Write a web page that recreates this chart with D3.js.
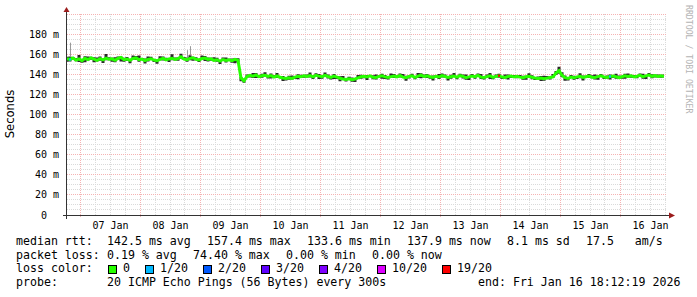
<!DOCTYPE html>
<html>
<head>
<meta charset="utf-8">
<script src="https://cdn.jsdelivr.net/npm/d3@7"></script>
<style>
  body { margin: 0; background: #fff; }
  svg { display: block; }
  text { font-family: "DejaVu Sans Mono", monospace; }
</style>
</head>
<body>
<svg id="chart" width="697" height="297"></svg>
<script>
// median rtt (ms), one value every 72 minutes from 06 Jan 18:48 UTC
const medianRtt = [
  155.5, 154.8, 156.2, 154.1, 155.3, 153.6, 155.9, 154.7, 156.4, 155.0,
  153.8, 155.6, 154.3, 156.1, 154.9, 155.4, 153.9, 155.8, 156.7, 154.5,
  155.2, 154.0, 155.7, 156.3, 154.6, 155.1, 153.7, 154.8, 155.5, 154.2,
  153.5, 154.9, 155.8, 154.4, 155.3, 156.0, 154.7, 155.6, 157.4, 155.2,
  154.6, 155.9, 156.5, 155.0, 154.3, 155.7, 156.2, 154.8, 155.4, 153.9,
  154.5, 153.2, 154.7, 153.8, 154.4, 153.6, 154.9, 153.9,
  136.2, 133.6,
  137.8, 138.9, 138.2, 139.4, 137.6, 138.5, 139.1, 137.9, 138.7, 137.3,
  138.4, 137.1, 136.3, 135.8, 136.6, 135.9, 137.2, 138.1, 137.5, 138.6,
  137.9, 138.8, 137.4, 139.0, 138.2, 137.6, 138.9, 137.8, 136.9, 138.3,
  137.2, 136.1, 135.4, 134.9, 135.6, 134.7, 135.3, 136.4, 137.5, 138.0,
  137.3, 138.4, 137.1, 136.8, 137.9, 138.6, 137.4, 136.9, 137.7, 138.3,
  137.5, 138.8, 137.2, 136.6, 137.9, 138.5, 137.0, 138.2, 139.1, 137.8,
  138.4, 137.6, 136.9, 138.1, 137.3, 138.7, 137.8, 136.8, 137.5, 138.2,
  137.1, 138.6, 137.9, 136.7, 137.4, 138.3, 137.6, 138.9, 137.2, 136.8,
  137.7, 138.4, 137.0, 137.9, 138.6, 137.3, 136.9, 137.8, 138.2, 137.4,
  138.0, 137.2, 136.6, 137.5, 138.1, 137.0, 136.4, 135.9, 136.3, 135.6,
  136.2, 136.8, 137.4, 141.2, 143.6, 139.0, 136.7, 135.8, 137.2, 136.5,
  137.4, 138.1, 136.9, 137.6, 138.3, 137.1, 136.8, 137.7, 138.4, 137.3,
  136.9, 137.8, 138.2, 137.5, 136.7, 137.6, 138.5, 137.9, 138.6, 137.4,
  138.1, 138.9, 137.6, 138.4, 139.2, 138.0, 138.7, 137.8, 138.5, 137.9
];

// smoke spread above / below the median (ms)
const smokeUp = [
  2,3,1,2,4,1,2,3,1,2, 3,2,1,4,2,1,3,2,1,2, 2,1,3,2,4,1,2,3,2,1, 1,3,2,2,1,4,2,1,3,2,
  2,3,1,2,1,3,2,2,1,3, 2,1,2,3,1,2,1,2,1,2, 2,1,3,2,1,2,3,1,2,2, 3,1,2,1,2,3,1,2,2,1,
  2,3,1,2,2,1,3,2,1,2, 1,2,3,1,2,2,1,3,2,1, 2,1,2,3,1,2,2,1,3,2, 1,2,3,2,1,2,1,3,2,2,
  2,1,2,1,3,2,2,1,2,3, 1,2,2,3,1,2,1,2,3,1, 2,3,1,2,2,1,3,2,1,2, 1,2,2,1,3,2,1,2,2,3,
  2,1,3,2,4,3,2,1,2,2, 1,3,2,1,2,2,3,1,2,1, 2,2,1,3,2,1,2,3,1,2, 1,2,3,1,2,2,1,2,1,2
];
const smokeDown = [
  3,2,2,1,3,2,4,1,2,3, 1,2,3,2,1,3,2,1,4,2, 2,3,1,2,2,1,3,2,1,2, 3,1,2,1,3,2,1,2,2,1,
  2,2,3,1,2,1,3,2,2,1, 2,3,1,2,1,2,4,2,3,2, 1,2,2,3,1,2,1,2,3,1, 2,1,3,2,2,1,2,3,1,2,
  1,2,2,1,3,2,1,2,2,3, 2,3,1,2,1,2,3,1,2,2, 3,1,2,2,1,3,2,2,1,2, 1,2,1,3,2,1,2,2,3,1,
  2,2,3,1,2,2,1,3,2,1, 2,1,2,2,3,1,2,1,2,2, 1,3,2,1,2,2,1,3,2,1, 2,1,2,3,1,2,2,1,3,2,
  1,2,1,2,3,2,3,2,1,2, 2,2,3,1,2,1,2,3,1,2, 1,3,2,2,1,2,3,1,2,1, 2,1,2,3,1,2,2,1,2,1
];

// isolated slow pings (light smoke spikes)
const spikeIndex = [1, 40, 41];
const spikeTop = [171.5, 164, 168];

// samples with packet loss
const lossIndex = [1, 144, 181];
const lossLevel = [1, 19, 1];

const lossThresholds = [0, 1, 2, 3, 4, 10, 19];
const lossLabels = ["0", "1/20", "2/20", "3/20", "4/20", "10/20", "19/20"];
const lossColors = ["#26ff00", "#00b8ff", "#0059ff", "#5e00ff", "#7e00ff", "#dd00ff", "#ff0000"];

const yTicks = [0, 20, 40, 60, 80, 100, 120, 140, 160, 180];

const rttLegend = ["median rtt:", "142.5 ms avg", "157.4 ms max", "133.6 ms min", "137.9 ms now", "8.1 ms sd", "17.5   am/s"];
const lossLegend = ["packet loss:", "0.19 % avg", "74.40 % max", "0.00 % min", "0.00 % now"];
const probeLegend = ["probe:", "20 ICMP Echo Pings (56 Bytes) every 300s", "end: Fri Jan 16 18:12:19 2026"];

const startTime = Date.UTC(2026, 0, 6, 18, 48);
const stepMs = 72 * 60 * 1000;
const endTime = startTime + 10 * 24 * 3600 * 1000;

const svg = d3.select("#chart");
const plotLeft = 67, plotRight = 667, plotBottom = 215, plotTop = 14;

const x = d3.scaleUtc().domain([new Date(startTime), new Date(endTime)]).range([plotLeft, plotRight]);
const y = d3.scaleLinear().domain([0, 200]).range([plotBottom, plotTop]);
const crisp = v => Math.floor(v) + 0.5;

const data = medianRtt.map((v, i) => ({
  t: new Date(startTime + i * stepMs),
  v: v,
  hi: v + smokeUp[i],
  lo: v - smokeDown[i]
}));

// grid
const grid = svg.append("g");
const minorY = d3.range(0, 201, 5).filter(v => v % 20 !== 0);
grid.selectAll(".hminor").data(minorY).enter().append("line")
  .attr("x1", plotLeft).attr("x2", plotRight)
  .attr("y1", d => crisp(y(d))).attr("y2", d => crisp(y(d)))
  .attr("stroke", "#dadada").attr("stroke-dasharray", "1,1");

const sixHours = d3.utcHour.every(6).range(new Date(startTime), new Date(endTime))
  .filter(d => d.getUTCHours() !== 0);
grid.selectAll(".vminor").data(sixHours).enter().append("line")
  .attr("x1", d => crisp(x(d))).attr("x2", d => crisp(x(d)))
  .attr("y1", plotTop).attr("y2", plotBottom)
  .attr("stroke", "#dadada").attr("stroke-dasharray", "1,1");

const majorY = d3.range(20, 201, 20);
grid.selectAll(".hmajor").data(majorY).enter().append("line")
  .attr("x1", plotLeft).attr("x2", plotRight)
  .attr("y1", d => crisp(y(d))).attr("y2", d => crisp(y(d)))
  .attr("stroke", "#f5b3b3").attr("stroke-dasharray", "1,1");

const days = d3.utcDay.range(new Date(startTime), new Date(endTime));
grid.selectAll(".vmajor").data(days).enter().append("line")
  .attr("x1", d => crisp(x(d))).attr("x2", d => crisp(x(d)))
  .attr("y1", plotTop).attr("y2", plotBottom + 3)
  .attr("stroke", "#f5b3b3").attr("stroke-dasharray", "1,1");

// smoke
svg.append("path")
  .datum(data)
  .attr("d", d3.area().curve(d3.curveStep).x(d => x(d.t)).y0(d => y(d.lo)).y1(d => y(d.hi)))
  .attr("fill", "#2a2a2a");

svg.selectAll(".spike").data(spikeIndex).enter().append("line")
  .attr("x1", d => crisp(x(data[d].t))).attr("x2", d => crisp(x(data[d].t)))
  .attr("y1", d => y(data[d].hi)).attr("y2", (d, i) => y(spikeTop[i]))
  .attr("stroke", "#9a9a9a").attr("stroke-width", 1);

// median line
svg.append("path")
  .datum(data)
  .attr("d", d3.line().x(d => x(d.t)).y(d => y(d.v)))
  .attr("fill", "none")
  .attr("stroke", lossColors[0])
  .attr("stroke-width", 3);

const lossColor = lvl => lossColors[d3.bisectRight(lossThresholds, lvl) - 1];
svg.selectAll(".loss").data(lossIndex).enter().append("line")
  .attr("x1", d => x(data[d].t) - 1).attr("x2", d => x(data[d].t) + 1)
  .attr("y1", d => y(data[d].v)).attr("y2", d => y(data[d].v))
  .attr("stroke", (d, i) => lossColor(lossLevel[i]))
  .attr("stroke-width", 2);

// axes
svg.append("line")
  .attr("x1", plotLeft - 4).attr("x2", plotRight + 3).attr("y1", crisp(plotBottom)).attr("y2", crisp(plotBottom))
  .attr("stroke", "#333");
svg.append("line")
  .attr("x1", crisp(plotLeft - 1)).attr("x2", crisp(plotLeft - 1)).attr("y1", plotBottom + 4).attr("y2", plotTop - 2)
  .attr("stroke", "#333");
svg.append("path")
  .attr("d", `M${plotRight + 2},${plotBottom - 2.5}L${plotRight + 2},${plotBottom + 3.5}L${plotRight + 8},${plotBottom + 0.5}Z`)
  .attr("fill", "#9b1c1c");
svg.append("path")
  .attr("d", `M${plotLeft - 3.5},${plotTop - 2}L${plotLeft + 2.5},${plotTop - 2}L${plotLeft - 0.5},${plotTop - 7}Z`)
  .attr("fill", "#9b1c1c");

// y labels
svg.selectAll(".ylab").data(yTicks).enter().append("text")
  .attr("x", 59).attr("y", d => crisp(y(d)) + 3.5)
  .attr("text-anchor", "end")
  .style("white-space", "pre")
  .attr("font-size", 10)
  .attr("fill", "#000")
  .text(d => d === 0 ? "0  " : d + " m");

// x labels at midday
const noons = days.map(d => d3.utcHour.offset(d, 12)).filter(d => d < new Date(endTime));
svg.selectAll(".xlab").data(noons).enter().append("text")
  .attr("x", d => x(d) + 0.5).attr("y", 229)
  .attr("text-anchor", "middle")
  .attr("font-size", 10)
  .attr("fill", "#000")
  .text(d => d3.utcFormat("%d %b")(d));

svg.append("text")
  .attr("transform", "translate(14,114) rotate(-90)")
  .attr("text-anchor", "middle")
  .style("font-family", "'DejaVu Sans', sans-serif")
  .attr("font-size", 11.6)
  .text("Seconds");

svg.append("text")
  .attr("transform", "translate(686,5) rotate(90)")
  .attr("font-size", 8.2)
  .attr("fill", "#b4b4b4")
  .text("RRDTOOL / TOBI OETIKER");

// legend
const lineY = [245, 258.5, 272, 285.5];
const legendFont = 11.6;
function legendLine(items, xs, yy) {
  svg.append("g").selectAll("text").data(items).enter().append("text")
    .attr("x", (d, i) => xs[i]).attr("y", yy)
    .attr("font-size", legendFont)
    .attr("fill", "#000")
    .style("white-space", "pre")
    .text(d => d);
}
legendLine(rttLegend, [16, 107, 207, 307, 407, 507, 586], lineY[0]);
legendLine(lossLegend, [16, 107, 193, 286, 372], lineY[1]);
legendLine(["loss color:"], [16], lineY[2]);
legendLine(probeLegend, [16, 107, 478], lineY[3]);

let bx = 108;
lossLabels.forEach((lab, i) => {
  svg.append("rect")
    .attr("x", bx + 0.5).attr("y", 265.5).attr("width", 8).attr("height", 8)
    .attr("fill", lossColors[i]).attr("stroke", "#000");
  svg.append("text")
    .attr("x", bx + 15).attr("y", lineY[2])
    .attr("font-size", legendFont)
    .text(lab);
  bx = bx + 15 + lab.length * 7 + 15;
});
</script>
</body>
</html>
